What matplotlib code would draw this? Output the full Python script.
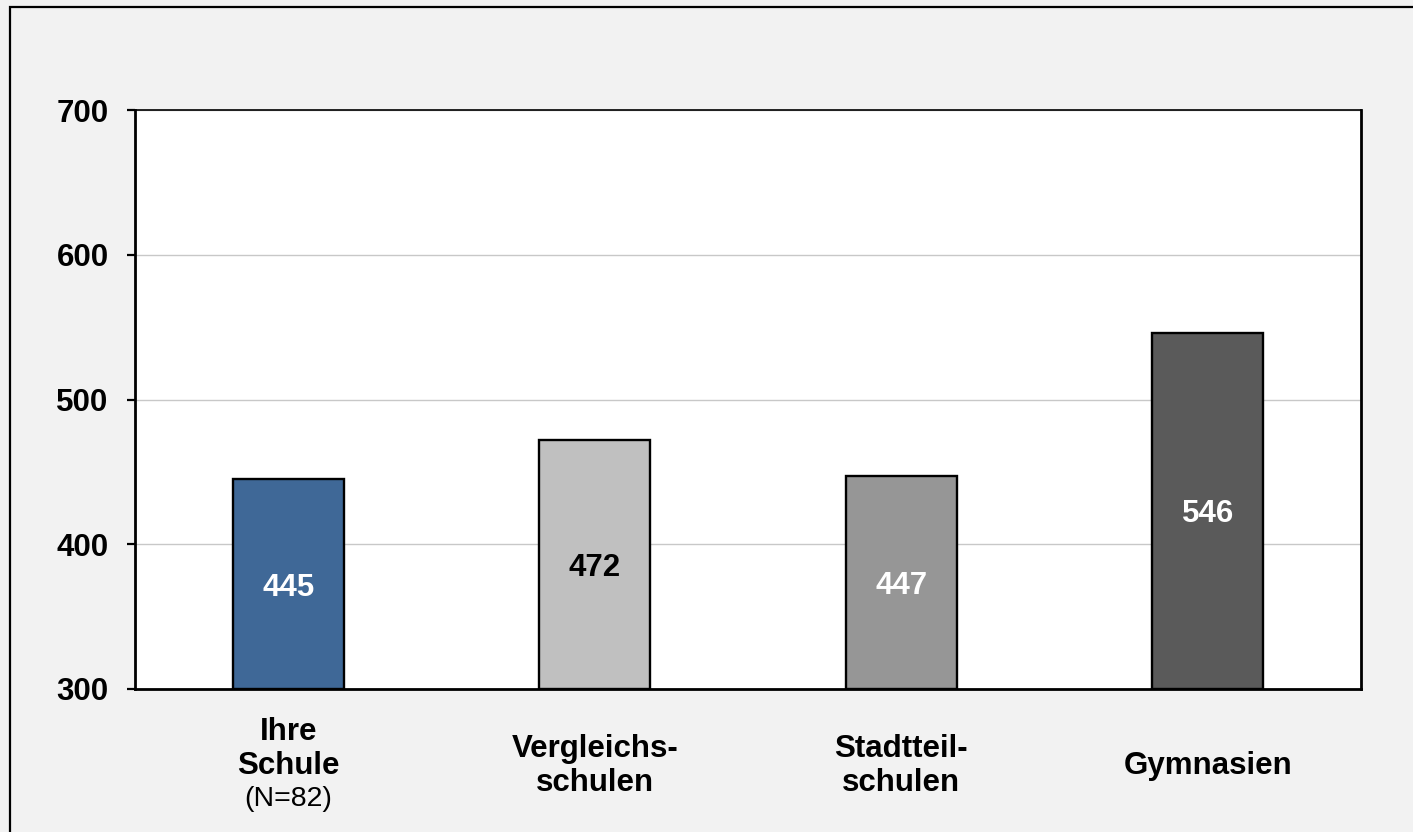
import matplotlib
matplotlib.use("Agg")
import matplotlib.pyplot as plt
from matplotlib.patches import Rectangle
from matplotlib.transforms import blended_transform_factory

plt.rcParams['font.family'] = ['Liberation Sans', 'DejaVu Sans']

# Data
categories = [["Ihre", "Schule", "(N=82)"],
              ["Vergleichs-", "schulen"],
              ["Stadtteil-", "schulen"],
              ["Gymnasien"]]
scores = [445, 472, 447, 546]
bar_colors = ["#3f6897", "#c0c0c0", "#969696", "#5a5a5a"]
label_colors = ["white", "black", "white", "white"]
y_ticks = [300, 400, 500, 600, 700]

W, H = 1413, 832
fig = plt.figure(figsize=(W / 100, H / 100), dpi=100, facecolor="#f2f2f2")

# Outer frame
fig.patches.append(Rectangle((10 / W, -0.1), 1.2, 1.1 - 7 / H,
                             transform=fig.transFigure, fill=False,
                             edgecolor="black", linewidth=1.6, zorder=0))

ax = fig.add_axes([135 / W, 1 - 689 / H, (1361 - 135) / W, (689 - 110) / H])
ax.set_facecolor("white")

x = list(range(len(scores)))
bottom = 300
ax.bar(x, [s - bottom for s in scores], bottom=bottom, width=0.362,
       color=bar_colors, edgecolor="black", linewidth=1.7, zorder=3)

for xi, s, c in zip(x, scores, label_colors):
    ax.text(xi, (s + bottom) / 2, str(s), ha="center", va="center_baseline",
            fontsize=22.5, fontweight="bold", color=c, zorder=4)

ax.set_xlim(-0.5, len(scores) - 0.5)
ax.set_ylim(300, 700)
ax.set_yticks(y_ticks)
ax.set_yticklabels([str(t) for t in y_ticks], fontsize=22.5, fontweight="bold")
ax.tick_params(axis="y", length=6, width=1.6, pad=13, direction="out")
ax.set_xticks([])
ax.yaxis.grid(True, color="#c8c8c8", linewidth=1.0, zorder=0)
ax.set_axisbelow(True)

for side in ["left", "bottom", "right"]:
    ax.spines[side].set_linewidth(2.0)
    ax.spines[side].set_color("black")
ax.spines["top"].set_linewidth(1.2)
ax.spines["top"].set_color("black")

# Category labels below the axis, stacked line by line
trans = blended_transform_factory(ax.transData, fig.transFigure)
step = 34
for xi, lines in zip(x, categories):
    n = len(lines)
    first = 774 - step * (n - 1) / 2
    for k, line in enumerate(lines):
        is_note = line.startswith("(")
        base = first + k * step
        if is_note:
            base -= 2
        ax.text(xi, 1 - base / H, line, transform=trans, ha="center",
                va="baseline", fontsize=20.5 if is_note else 22.5,
                fontweight="normal" if is_note else "bold",
                color="black", clip_on=False)

fig.savefig("out.png", dpi=100, facecolor=fig.get_facecolor())
